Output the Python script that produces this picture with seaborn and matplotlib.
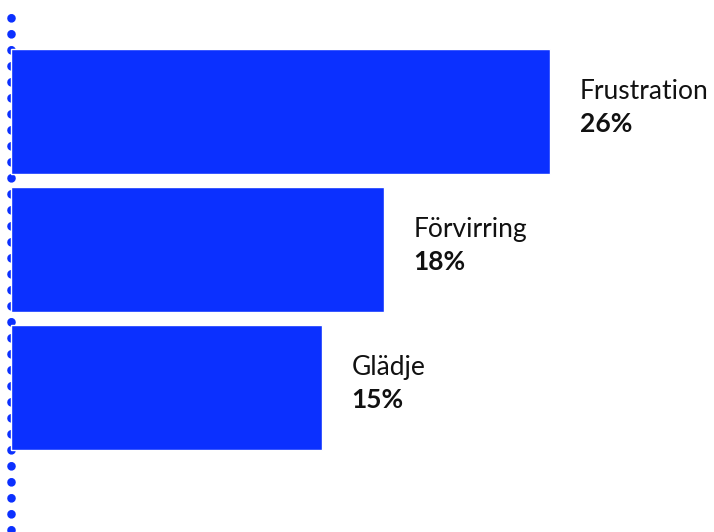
import pandas as pd
import seaborn as sns
import matplotlib.pyplot as plt

# values
emotions = ['Frustration', 'Förvirring', 'Glädje']
shares = [26, 18, 15]
share_labels = ['26%', '18%', '15%']

blue = '#0B30FF'

df = pd.DataFrame({'Emotion': emotions, 'Share': shares})

sns.set_style('white')
plt.rcParams['font.family'] = ['Lato', 'DejaVu Sans']
plt.rcParams['lines.scale_dashes'] = False

fig = plt.figure(figsize=(7.14, 5.32), dpi=100)
ax = fig.add_axes([0, 0, 1, 1])

sns.barplot(data=df, x='Share', y='Emotion', color=blue, saturation=1,
            width=0.906, ax=ax, zorder=3)

# dotted axis line on the left (dash pattern in points: 16 px period)
ax.axvline(0, ymax=0.97, color=blue, linewidth=6.2,
           linestyle=(10.0, (0.1, 11.42)), dash_capstyle='round', zorder=2)

for i, (name, lab, val) in enumerate(zip(emotions, share_labels, shares)):
    ax.text(val + 1.4, i - 0.09, name, fontsize=19, va='baseline', ha='left',
            color='#111111')
    ax.text(val + 1.4, i + 0.149, lab, fontsize=19, fontweight='bold',
            va='baseline', ha='left', color='#111111')

ax.set_xlim(-0.53, 33.88)
ax.set_ylim(3.047, -0.808)
ax.axis('off')

fig.savefig('out.png', dpi=100)
